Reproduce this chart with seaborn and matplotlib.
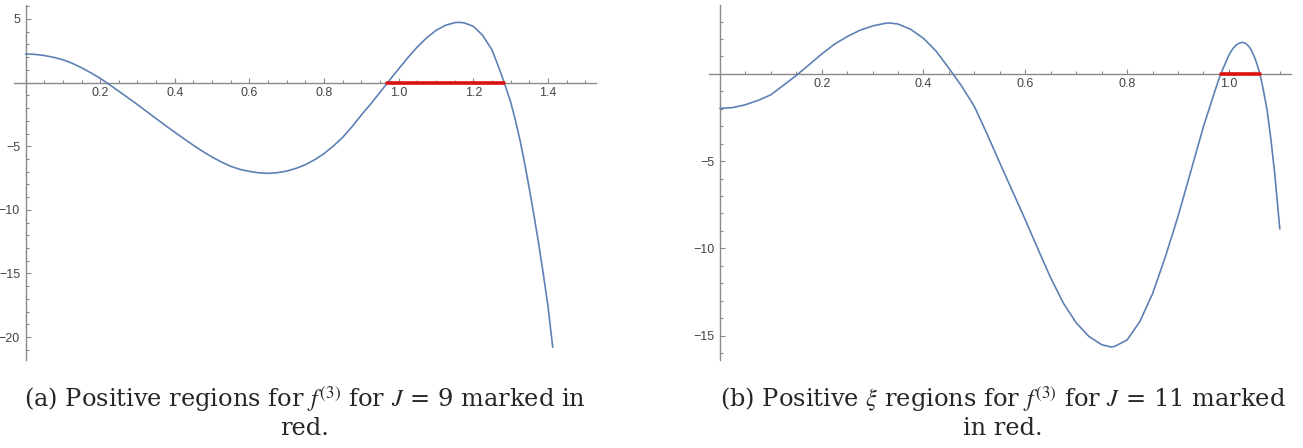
import numpy as np
import matplotlib
matplotlib.use("Agg")
import matplotlib.pyplot as plt
from matplotlib.ticker import MultipleLocator, FuncFormatter
import seaborn as sns

# -------------------------------
# Data
# -------------------------------
# (a) J = 9
xi_a = [0.000, 0.025, 0.050, 0.075, 0.100, 0.125, 0.150, 0.175, 0.200, 0.225,
        0.250, 0.275, 0.300, 0.325, 0.350, 0.375, 0.400, 0.425, 0.450, 0.475,
        0.500, 0.525, 0.550, 0.575, 0.600, 0.625, 0.650, 0.675, 0.700, 0.725,
        0.750, 0.775, 0.800, 0.825, 0.850, 0.875, 0.900, 0.925, 0.950, 0.975,
        1.000, 1.025, 1.050, 1.075, 1.100, 1.125, 1.150, 1.160, 1.175, 1.200,
        1.225, 1.250, 1.2625, 1.275, 1.283, 1.290, 1.300, 1.3125, 1.325, 1.3375,
        1.350, 1.3625, 1.375, 1.3875, 1.400, 1.413]
f3_a = [2.25, 2.22, 2.13, 1.99, 1.80, 1.52, 1.17, 0.77, 0.34, -0.16,
        -0.68, -1.20, -1.73, -2.28, -2.83, -3.37, -3.90, -4.42, -4.93, -5.41,
        -5.85, -6.24, -6.58, -6.82, -6.98, -7.09, -7.13, -7.08, -6.95, -6.74,
        -6.45, -6.06, -5.58, -4.98, -4.30, -3.47, -2.55, -1.68, -0.77, 0.17,
        1.08, 1.97, 2.80, 3.52, 4.10, 4.50, 4.71, 4.74, 4.70, 4.43,
        3.72, 2.59, 1.65, 0.65, 0.0, -0.62, -1.50, -2.90, -4.48, -6.30,
        -8.30, -10.40, -12.60, -15.00, -17.50, -20.80]
pos_start_a = [0.968]
pos_end_a = [1.283]

# (b) J = 11
xi_b = [0.000, 0.025, 0.050, 0.075, 0.100, 0.125, 0.150, 0.175, 0.200, 0.225,
        0.250, 0.275, 0.300, 0.325, 0.333, 0.350, 0.375, 0.400, 0.425, 0.450,
        0.475, 0.500, 0.525, 0.550, 0.575, 0.600, 0.625, 0.650, 0.675, 0.700,
        0.725, 0.750, 0.768, 0.775, 0.800, 0.825, 0.850, 0.875, 0.900, 0.925,
        0.950, 0.975, 0.984, 1.000, 1.008, 1.015, 1.021, 1.027, 1.033, 1.040,
        1.045, 1.050, 1.055, 1.061, 1.0675, 1.075, 1.0825, 1.090, 1.100]
f3_b = [-1.98, -1.93, -1.77, -1.52, -1.20, -0.65, -0.09, 0.52, 1.14, 1.70,
        2.14, 2.50, 2.75, 2.90, 2.92, 2.86, 2.55, 2.04, 1.30, 0.32,
        -0.70, -1.87, -3.45, -5.11, -6.74, -8.36, -10.05, -11.70, -13.15, -14.27,
        -15.05, -15.52, -15.65, -15.63, -15.25, -14.20, -12.60, -10.50, -8.17, -5.60,
        -3.02, -0.76, 0.0, 1.08, 1.46, 1.67, 1.77, 1.81, 1.75, 1.55,
        1.31, 0.98, 0.58, 0.0, -0.90, -2.06, -3.75, -5.70, -8.89]
pos_start_b = [0.984]
pos_end_b = [1.061]

caption_a = "(a) Positive regions for $f^{(3)}$ for $J$ = 9 marked in\nred."
caption_b = "(b) Positive $\\xi$ regions for $f^{(3)}$ for $J$ = 11 marked\nin red."

# -------------------------------
# Style
# -------------------------------
sns.set_style("white")
plt.rcParams["font.family"] = ["Liberation Sans", "DejaVu Sans"]
plt.rcParams["mathtext.fontset"] = "stix"

AXIS_GRAY = "#8a8a8a"
LABEL_GRAY = "#444444"
CURVE_BLUE = "#5e81b5"
MARK_RED = "#dd1111"


def style_axes(ax, xlim, ylim):
    ax.set_xlim(*xlim)
    ax.set_ylim(*ylim)
    for side in ["top", "right"]:
        ax.spines[side].set_visible(False)
    for side in ["left", "bottom"]:
        ax.spines[side].set_position(("data", 0))
        ax.spines[side].set_color(AXIS_GRAY)
        ax.spines[side].set_linewidth(1.0)
    ax.xaxis.set_major_locator(MultipleLocator(0.2))
    ax.xaxis.set_minor_locator(MultipleLocator(0.05))
    ax.yaxis.set_major_locator(MultipleLocator(5))
    ax.yaxis.set_minor_locator(MultipleLocator(1))
    ax.xaxis.set_major_formatter(FuncFormatter(lambda v, p: "" if abs(v) < 1e-9 else f"{v:.1f}"))
    ax.yaxis.set_major_formatter(FuncFormatter(lambda v, p: "" if abs(v) < 1e-9 else f"{v:g}".replace("-", "\u2212")))
    ax.tick_params(which="both", direction="in", bottom=True, left=True,
                   top=False, right=False, color=AXIS_GRAY, width=0.8,
                   labelcolor=LABEL_GRAY, labelsize=9)
    ax.tick_params(which="major", length=3.3)
    ax.tick_params(which="minor", length=2.2)
    ax.tick_params(axis="x", pad=3)
    ax.tick_params(axis="y", pad=4)
    ax.set_xlabel("")
    ax.set_ylabel("")


def draw_panel(ax, xs, ys, starts, ends):
    sns.lineplot(x=xs, y=ys, ax=ax, color=CURVE_BLUE, linewidth=1.2,
                 sort=False, estimator=None, zorder=3)
    for a, b in zip(starts, ends):
        sns.lineplot(x=[a, b], y=[0, 0], ax=ax, color=MARK_RED, linewidth=2.6,
                     sort=False, estimator=None, zorder=4)


fig = plt.figure(figsize=(13.03, 4.48), dpi=100)
ax_a = fig.add_axes([14 / 1303, 88 / 448, 582 / 1303, 355 / 448])
ax_b = fig.add_axes([709 / 1303, 88 / 448, 582 / 1303, 355 / 448])

draw_panel(ax_a, xi_a, f3_a, pos_start_a, pos_end_a)
style_axes(ax_a, (-0.031, 1.529), (-21.8, 6.1))

draw_panel(ax_b, xi_b, f3_b, pos_start_b, pos_end_b)
style_axes(ax_b, (-0.0214, 1.122), (-16.4, 3.95))

fig.text(305 / 1303, 1 - 384 / 448, caption_a, ha="center", va="top",
         fontsize=17.4, family="DejaVu Serif", linespacing=1.15)
fig.text(1003 / 1303, 1 - 384 / 448, caption_b, ha="center", va="top",
         fontsize=17.4, family="DejaVu Serif", linespacing=1.15)

fig.savefig("out.png", dpi=100)
